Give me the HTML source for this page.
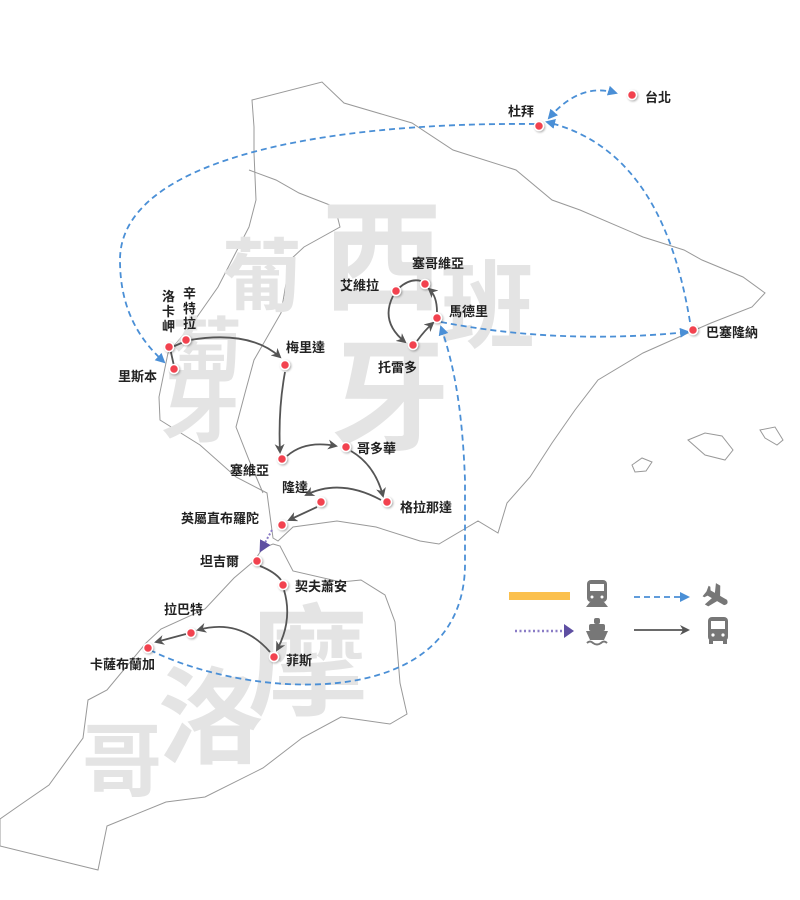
<!DOCTYPE html>
<html><head><meta charset="utf-8"><style>
html,body{margin:0;padding:0;background:#fff;}
svg{display:block;}
.w{font-family:"Liberation Sans","Noto Sans CJK TC",sans-serif;fill:#e4e4e4;font-weight:bold;}
.l{font-family:"Liberation Sans","Noto Sans CJK TC",sans-serif;font-size:13px;font-weight:bold;fill:#222;}
.land{fill:#fff;stroke:#999;stroke-width:1;}
.b{fill:none;stroke:#4a8fd6;stroke-width:1.8;stroke-dasharray:6,4;}
.g{fill:none;stroke:#555;stroke-width:1.8;}
.d{fill:#f2434f;stroke:#fff;stroke-width:1.5;}
</style></head><body>
<svg width="800" height="900" viewBox="0 0 800 900" xmlns="http://www.w3.org/2000/svg">
<defs>
<marker id="ab" markerWidth="10" markerHeight="10" refX="8" refY="5" orient="auto" markerUnits="userSpaceOnUse"><path d="M0,0 L10,5 L0,10 z" fill="#4a8fd6"/></marker>
<marker id="abs" markerWidth="10" markerHeight="10" refX="2" refY="5" orient="auto" markerUnits="userSpaceOnUse"><path d="M10,0 L0,5 L10,10 z" fill="#4a8fd6"/></marker>
<marker id="ag" markerWidth="10" markerHeight="10" refX="8" refY="5" orient="auto" markerUnits="userSpaceOnUse"><path d="M0,0 L10,5 L0,10 L3,5 z" fill="#555"/></marker>
<marker id="ap" markerWidth="12" markerHeight="12" refX="9" refY="6" orient="auto" markerUnits="userSpaceOnUse"><path d="M0,0 L12,6 L0,12 z" fill="#5e4fa2"/></marker>
<filter id="sh"><feDropShadow dx="1" dy="1" stdDeviation="1" flood-opacity="0.35"/></filter>
</defs>
<path class="land" d="M252,100 L322,82 L344,103 L412,123 L453,150 L516,170 L552,200 L580,210 L643,237 L684,250 L702,260 L743,277 L765,293 L752,307 L711,323 L688,333 L643,353 L598,380 L575,410 L552,443 L530,477 L507,503 L498,533 L478,521 L439,544 L420,541 L376,527 L337,521 L293,527 L278,541 L273,538 L267,493 L236,477 L200,445 L160,420 L159,397 L168,353 L190,327 L218,287 L249,227 L256,200 L254,153 L254,127 Z"/>
<path fill="none" stroke="#999" d="M249,170 L276,180 L299,193 L335,207 L340,227 L304,247 L290,260 L281,313 L254,360 L245,393 L236,427 L249,460 L263,493"/>
<path class="land" d="M688,440 L705,433 L722,436 L733,450 L725,460 L705,455 Z"/>
<path class="land" d="M760,430 L775,427 L783,440 L777,445 L765,438 Z"/>
<path class="land" d="M632,465 L642,458 L652,462 L646,471 L635,472 Z"/>
<path class="land" d="M273,544 L280,546 L293,571 L341,582 L361,580 L385,595 L395,622 L400,683 L407,714 L390,724 L341,717 L302,738 L263,768 L205,797 L166,802 L107,826 L98,870 L0,846 L0,819 L20,805 L49,785 L83,738 L88,700 L107,690 L146,643 L161,629 L205,609 L234,578 L254,561 L263,548 Z"/>
<text class="w" x="322" y="300" font-size="120">西</text>
<text class="w" x="440" y="340" font-size="95">班</text>
<text class="w" x="330" y="440" font-size="120">牙</text>
<text class="w" x="222" y="305" font-size="80">葡</text>
<text class="w" x="172" y="375" font-size="70">萄</text>
<text class="w" x="160" y="435" font-size="80">牙</text>
<text class="w" x="248" y="705" font-size="120">摩</text>
<text class="w" x="158" y="755" font-size="105">洛</text>
<text class="w" x="82" y="790" font-size="80">哥</text>
<path class="b" d="M549,118 Q580,82 616,93" marker-start="url(#abs)" marker-end="url(#ab)"/>
<path class="b" d="M690,322 C670,200 620,140 547,122" marker-end="url(#ab)"/>
<path class="b" d="M535,124 C320,122 120,160 120,260 C120,310 140,340 164,362" marker-end="url(#ab)"/>
<path class="b" d="M441,322 Q560,345 688,332" marker-end="url(#ab)"/>
<path class="b" d="M150,650 C250,700 468,715 465,560 L465,480 C462,400 452,360 441,327" marker-end="url(#ab)"/>
<path class="g" d="M190,340 Q250,330 280,357" marker-end="url(#ag)"/>
<path class="g" d="M170,348 L174,366 M170,348 L186,341"/>
<path class="g" d="M285,372 Q278,410 280,452" marker-end="url(#ag)"/>
<path class="g" d="M287,456 Q305,440 336,446" marker-end="url(#ag)"/>
<path class="g" d="M351,451 Q375,465 383,496" marker-end="url(#ag)"/>
<path class="g" d="M381,500 Q340,478 306,495" marker-end="url(#ag)"/>
<path class="g" d="M317,507 L289,520" marker-end="url(#ag)"/>
<path class="g" d="M260,566 Q275,572 281,580"/>
<path class="g" d="M284,590 Q293,620 277,650" marker-end="url(#ag)"/>
<path class="g" d="M270,652 Q240,618 198,630" marker-end="url(#ag)"/>
<path class="g" d="M186,634 L156,642" marker-end="url(#ag)"/>
<path class="g" d="M399,288 Q410,278 421,281"/>
<path class="g" d="M393,296 Q380,322 405,342" marker-end="url(#ag)"/>
<path class="g" d="M417,341 Q425,330 433,323" marker-end="url(#ag)"/>
<path class="g" d="M437,312 Q437,296 429,289" marker-end="url(#ag)"/>
<path d="M272,530 L261,550" stroke="#8a7cc6" stroke-width="2" stroke-dasharray="2,2" fill="none" marker-end="url(#ap)"/>
<g filter="url(#sh)">
<circle class="d" cx="632" cy="95" r="4.5"/><circle class="d" cx="539" cy="126" r="4.5"/>
<circle class="d" cx="693" cy="330" r="4.5"/><circle class="d" cx="425" cy="284" r="4.5"/>
<circle class="d" cx="396" cy="291" r="4.5"/><circle class="d" cx="437" cy="318" r="4.5"/>
<circle class="d" cx="413" cy="345" r="4.5"/><circle class="d" cx="186" cy="340" r="4.5"/>
<circle class="d" cx="169" cy="347" r="4.5"/><circle class="d" cx="174" cy="369" r="4.5"/>
<circle class="d" cx="285" cy="365" r="4.5"/><circle class="d" cx="282" cy="459" r="4.5"/>
<circle class="d" cx="346" cy="447" r="4.5"/><circle class="d" cx="387" cy="502" r="4.5"/>
<circle class="d" cx="321" cy="502" r="4.5"/><circle class="d" cx="282" cy="525" r="4.5"/>
<circle class="d" cx="257" cy="561" r="4.5"/><circle class="d" cx="283" cy="585" r="4.5"/>
<circle class="d" cx="274" cy="657" r="4.5"/><circle class="d" cx="191" cy="633" r="4.5"/>
<circle class="d" cx="148" cy="648" r="4.5"/>
</g>
<text class="l" x="645" y="102">台北</text>
<text class="l" x="508" y="116">杜拜</text>
<text class="l" x="706" y="337">巴塞隆納</text>
<text class="l" x="412" y="268">塞哥維亞</text>
<text class="l" x="340" y="290">艾維拉</text>
<text class="l" x="449" y="316">馬德里</text>
<text class="l" x="378" y="372">托雷多</text>
<text class="l" x="162" y="301">洛</text><text class="l" x="162" y="316">卡</text><text class="l" x="162" y="331">岬</text>
<text class="l" x="183" y="298">辛</text><text class="l" x="183" y="313">特</text><text class="l" x="183" y="328">拉</text>
<text class="l" x="118" y="381">里斯本</text>
<text class="l" x="286" y="352">梅里達</text>
<text class="l" x="230" y="475">塞維亞</text>
<text class="l" x="357" y="453">哥多華</text>
<text class="l" x="400" y="512">格拉那達</text>
<text class="l" x="282" y="492">隆達</text>
<text class="l" x="181" y="523">英屬直布羅陀</text>
<text class="l" x="200" y="566">坦吉爾</text>
<text class="l" x="295" y="591">契夫蕭安</text>
<text class="l" x="286" y="665">菲斯</text>
<text class="l" x="164" y="614">拉巴特</text>
<text class="l" x="90" y="669">卡薩布蘭加</text>
<rect x="509" y="592" width="61" height="8" fill="#fbc04d"/>
<g fill="#777">
<rect x="587" y="580" width="20" height="22" rx="4"/>
<rect x="590" y="584" width="14" height="7" fill="#fff"/>
<circle cx="592" cy="597" r="1.5" fill="#fff"/><circle cx="602" cy="597" r="1.5" fill="#fff"/>
<path d="M586,607 L590,602 L604,602 L608,607 Z"/>
</g>
<path class="b" d="M634,597 L688,597" marker-end="url(#ab)"/>
<path d="M709,585 L714,585 L719,594 L727,594 Q731,597 727,600 L719,600 L714,609 L710,609 L713,600 L708,600 L706,603 L704,603 L705,597 L704,591 L706,591 L708,594 L713,594 Z" fill="#777" transform="rotate(30 716 597)"/>
<path d="M515,631 L566,631" stroke="#8a7cc6" stroke-width="2.5" stroke-dasharray="2,2.5" fill="none"/>
<path d="M564,624 L574,631 L564,638 Z" fill="#5e4fa2"/>
<g fill="#777">
<rect x="594" y="618" width="6" height="6" rx="2"/>
<rect x="589" y="624" width="16" height="7" rx="2"/>
<path d="M586,631 L608,631 L604,640 L590,640 Z"/>
<path d="M587,643 Q590,640 593,643 Q597,646 601,643 Q604,640 607,643" stroke="#777" stroke-width="2" fill="none"/>
</g>
<path class="g" d="M634,630 L688,630" marker-end="url(#ag)"/>
<g fill="#777">
<rect x="708" y="617" width="20" height="24" rx="4"/>
<rect x="711" y="621" width="14" height="8" fill="#fff"/>
<circle cx="713" cy="635" r="1.6" fill="#fff"/><circle cx="723" cy="635" r="1.6" fill="#fff"/>
<rect x="709" y="640" width="4" height="4"/><rect x="723" y="640" width="4" height="4"/>
</g>
</svg>
</body></html>
